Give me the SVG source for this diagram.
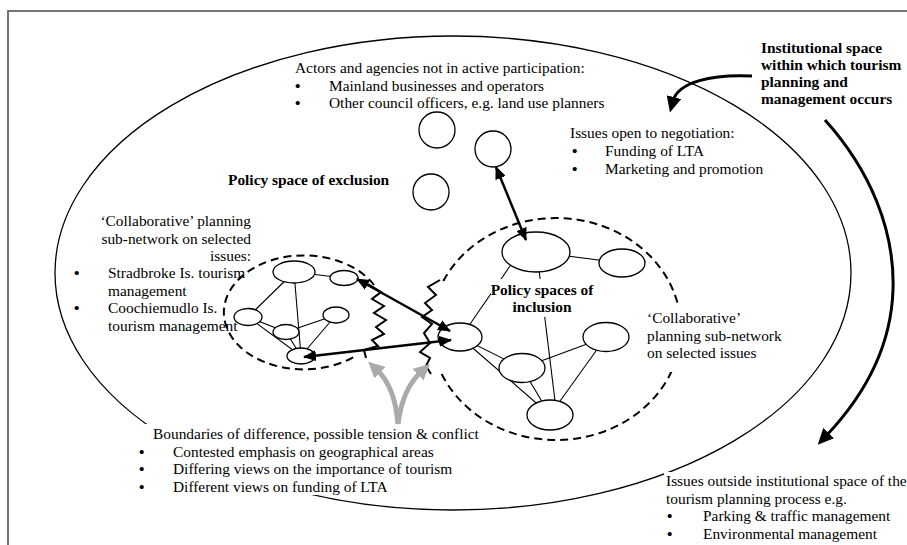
<svg xmlns="http://www.w3.org/2000/svg" width="907" height="545" viewBox="0 0 907 545">
<defs>
<style>
text{font-family:"Liberation Serif","Times New Roman",serif;font-size:15.4px;fill:#000}
.b{font-weight:bold}
.m{text-anchor:middle}
.r{text-anchor:end}
.u{font-weight:bold}
.n{fill:#fff;stroke:#000;stroke-width:1.3}
.e{stroke:#000;stroke-width:1.1;fill:none}
.d{fill:none;stroke:#000;stroke-width:2;stroke-dasharray:8 5}
.a{stroke:#000;stroke-width:2.5;fill:none;marker-start:url(#ah);marker-end:url(#ah)}
.t{stroke:#000;stroke-width:3;fill:none;marker-end:url(#th)}
.z{stroke:#000;stroke-width:2;fill:none}
.g{stroke:#aaa;stroke-width:5;fill:none;marker-end:url(#gh)}
.bg{fill:#fff}
</style>
<marker id="ah" markerUnits="userSpaceOnUse" markerWidth="13" markerHeight="11" viewBox="0 0 13 11" refX="12" refY="5.5" orient="auto-start-reverse"><path d="M0,0 L13,5.5 L0,11 z" fill="#000"/></marker>
<marker id="th" markerUnits="userSpaceOnUse" markerWidth="16" markerHeight="15" viewBox="0 0 16 15" refX="4" refY="7.5" orient="auto"><path d="M0,0 L16,7.5 L0,15 z" fill="#000"/></marker>
<marker id="gh" markerUnits="userSpaceOnUse" markerWidth="16" markerHeight="16" viewBox="0 0 16 16" refX="4" refY="8" orient="auto"><path d="M0,0 L16,8 L0,16 z" fill="#aaa"/></marker>
</defs>

<rect x="8" y="11" width="1000" height="600" fill="#fff" stroke="#555" stroke-width="1.6"/>

<g id="institutional-space">
<ellipse cx="453" cy="273" rx="398" ry="237" fill="none" stroke="#000" stroke-width="1.3"/>
</g>

<g id="subnetwork-left">
<path class="d" d="M374,285 A80,57 0 1 0 357,355"/>
</g>
<g id="subnetwork-right">
<path class="d" d="M443.3,281 A125,111 0 1 1 441.2,373"/>
</g>

<g id="edges">
<line class="e" x1="294" y1="272" x2="344" y2="278"/>
<line class="e" x1="294" y1="272" x2="248" y2="317"/>
<line class="e" x1="294" y1="272" x2="301" y2="356"/>
<line class="e" x1="248" y1="317" x2="286" y2="332"/>
<line class="e" x1="248" y1="317" x2="301" y2="356"/>
<line class="e" x1="286" y1="332" x2="336" y2="315"/>
<line class="e" x1="286" y1="332" x2="301" y2="356"/>
<line class="e" x1="336" y1="315" x2="301" y2="356"/>
<line class="e" x1="536" y1="252" x2="622" y2="263"/>
<line class="e" x1="510" y1="266" x2="468" y2="327"/>
<line class="e" x1="539" y1="270" x2="555" y2="401"/>
<line class="e" x1="460" y1="337" x2="522" y2="368"/>
<line class="e" x1="460" y1="337" x2="550" y2="415"/>
<line class="e" x1="522" y1="368" x2="606" y2="337"/>
<line class="e" x1="522" y1="368" x2="550" y2="415"/>
<line class="e" x1="606" y1="337" x2="550" y2="415"/>
</g>

<g id="label-inclusion">
<rect class="bg" x="491" y="279" width="104" height="38"/>
<text class="b m" x="542" y="295">Policy spaces of</text>
<text class="b m" x="542" y="312">inclusion</text>
</g>

<g id="excluded-actor-1"><circle class="n" cx="437" cy="130" r="18"/></g>
<g id="excluded-actor-2"><circle class="n" cx="493" cy="149" r="18"/></g>
<g id="excluded-actor-3"><circle class="n" cx="431" cy="192" r="18"/></g>

<g id="left-node-1"><ellipse class="n" cx="294" cy="272" rx="21" ry="11"/></g>
<g id="left-node-2"><ellipse class="n" cx="344" cy="278" rx="14" ry="7.5"/></g>
<g id="left-node-3"><ellipse class="n" cx="248" cy="317" rx="14" ry="8.5"/></g>
<g id="left-node-4"><ellipse class="n" cx="286" cy="332" rx="13" ry="7.5"/></g>
<g id="left-node-5"><ellipse class="n" cx="336" cy="315" rx="13" ry="8"/></g>
<g id="left-node-6"><ellipse class="n" cx="301" cy="356" rx="14" ry="8"/></g>

<g id="right-node-1"><ellipse class="n" cx="536" cy="252" rx="34" ry="20"/></g>
<g id="right-node-2"><ellipse class="n" cx="622" cy="263" rx="23" ry="14"/></g>
<g id="right-node-3"><ellipse class="n" cx="460" cy="337" rx="22" ry="14"/></g>
<g id="right-node-4"><ellipse class="n" cx="522" cy="368" rx="23" ry="14.5"/></g>
<g id="right-node-5"><ellipse class="n" cx="606" cy="337" rx="23" ry="14.5"/></g>
<g id="right-node-6"><ellipse class="n" cx="550" cy="415" rx="23" ry="15"/></g>

<g id="label-institutional">
<text class="b" x="761" y="53">Institutional space</text>
<text class="b" x="761" y="70">within which tourism</text>
<text class="b" x="761" y="87">planning and</text>
<text class="b" x="761" y="104">management occurs</text>
</g>

<g id="label-actors">
<text x="295" y="73">Actors and agencies not in active participation:</text>
<text class="u" x="295" y="90.5">•</text><text x="329" y="90.5">Mainland businesses and operators</text>
<text class="u" x="295" y="108">•</text><text x="329" y="108">Other council officers, e.g. land use planners</text>
</g>

<g id="label-negotiation">
<text x="570" y="138">Issues open to negotiation:</text>
<text class="u" x="572" y="156">•</text><text x="605" y="156">Funding of LTA</text>
<text class="u" x="572" y="174">•</text><text x="605" y="174">Marketing and promotion</text>
</g>

<g id="label-exclusion">
<text class="b" x="228" y="185">Policy space of exclusion</text>
</g>

<g id="label-collab-left">
<text class="r" x="251" y="226">‘Collaborative’ planning</text>
<text class="r" x="251" y="243.5">sub-network on selected</text>
<text class="r" x="251" y="261">issues:</text>
<text class="u" x="74" y="278">•</text><text x="108" y="278">Stradbroke Is. tourism</text>
<text x="108" y="295.5">management</text>
<text class="u" x="74" y="313">•</text><text x="108" y="313">Coochiemudlo Is.</text>
<text x="108" y="330.5">tourism management</text>
</g>

<g id="label-collab-right">
<rect class="bg" x="644" y="306" width="144" height="66"/>
<text x="647" y="323">‘Collaborative’</text>
<text x="647" y="340.5">planning sub-network</text>
<text x="647" y="358">on selected issues</text>
</g>

<g id="label-boundaries">
<rect class="bg" x="145" y="424" width="340" height="71"/>
<text x="153" y="439">Boundaries of difference, possible tension &amp; conflict</text>
<text class="u" x="139" y="456.5">•</text><text x="173" y="456.5">Contested emphasis on geographical areas</text>
<text class="u" x="139" y="474">•</text><text x="173" y="474">Differing views on the importance of tourism</text>
<text class="u" x="139" y="491.5">•</text><text x="173" y="491.5">Different views on funding of LTA</text>
</g>

<g id="label-outside">
<rect class="bg" x="664" y="472" width="250" height="80"/>
<text x="666" y="486">Issues outside institutional space of the</text>
<text x="666" y="503.5">tourism planning process e.g.</text>
<text class="u" x="667" y="521">•</text><text x="703" y="521">Parking &amp; traffic management</text>
<text class="u" x="667" y="538.5">•</text><text x="703" y="538.5">Environmental management</text>
</g>

<g id="connectors">
<line class="a" x1="496" y1="167" x2="526" y2="240"/>
<line class="a" x1="357" y1="279" x2="450" y2="331"/>
<line class="a" x1="304" y1="357" x2="451" y2="340"/>
<polyline class="z" points="368,284 381,292 372,299 384,306 374,313 386,320 376,327 384,334 372,340 378,346 364,350 366,358"/>
<polyline class="z" points="440,280 428,287 436,295 425,303 432,310 422,317 432,324 424,333 430,343 420,352 430,358 426,366 431,374"/>
<path class="t" d="M752,76 C712,74 678,82 673,101"/>
<path class="t" d="M825,120 C870,170 895,230 893,290 C891,350 862,398 826,436"/>
<path class="g" d="M398,424 C396,400 390,382 377,370"/>
<path class="g" d="M398,424 C401,400 409,383 421,372"/>
</g>
</svg>
